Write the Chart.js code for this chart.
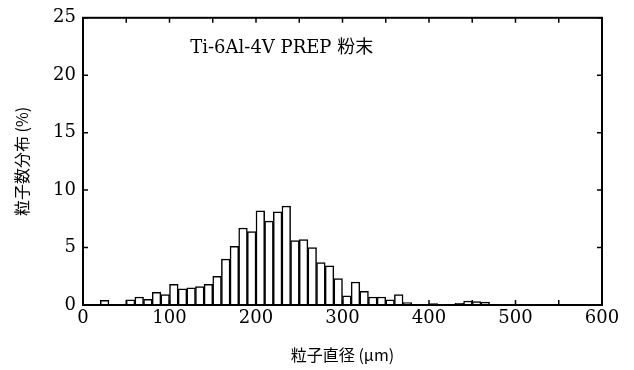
<!DOCTYPE html>
<html lang="ja">

<head>
    <meta charset="UTF-8" />
    <title>Ti-6Al-4V PREP 粉末</title>
    <style>
        html, body { margin: 0; padding: 0; background: #fff; }
        #histograma { display: block; }
    </style>
</head>

<body>
    <canvas id="histograma" width="634" height="370"></canvas>

    <script src="https://cdn.jsdelivr.net/npm/chart.js"></script>
    <script>
        // dados: centro de cada classe (µm) e % de partículas
        const diametros = [25, 35, 45, 55, 65, 75, 85, 95, 105, 115, 125, 135, 145, 155, 165, 175, 185, 195,
            205, 215, 225, 235, 245, 255, 265, 275, 285, 295, 305, 315, 325, 335, 345, 355, 365, 375,
            385, 395, 405, 415, 425, 435, 445, 455, 465, 475];
        const distribuicao = [0.4, 0.05, 0.05, 0.45, 0.7, 0.5, 1.1, 0.9, 1.8, 1.4, 1.5, 1.6, 1.8, 2.5, 4.0, 5.1, 6.7, 6.4,
            8.2, 7.3, 8.1, 8.6, 5.6, 5.7, 5.0, 3.7, 3.4, 2.3, 0.8, 2.0, 1.2, 0.7, 0.7, 0.45, 0.9, 0.2,
            0.05, 0.05, 0.12, 0.05, 0.05, 0.15, 0.35, 0.3, 0.25, 0.05];
        const ticksX = [0, 100, 200, 300, 400, 500, 600];
        const ticksXmenores = [50, 100, 150, 200, 250, 300, 350, 400, 450, 500, 550];
        const ticksY = [0, 5, 10, 15, 20, 25];
        const rotulo = 'Ti-6Al-4V PREP 粉末';

        const fonteSerif = '"DejaVu Serif", "Noto Sans CJK JP", serif';
        const fonteCJK = '"Noto Sans CJK JP", sans-serif';

        // moldura, ticks internos e o texto do título dentro do gráfico
        const molduraPlugin = {
            id: 'moldura',
            afterDatasetsDraw(chart) {
                const { ctx, chartArea: a, scales } = chart;
                ctx.save();
                ctx.strokeStyle = '#000';
                ctx.lineWidth = 2;
                ctx.strokeRect(a.left, a.top, a.right - a.left, a.bottom - a.top);

                ctx.lineWidth = 1.5;
                ctx.beginPath();
                ticksXmenores.forEach(v => {
                    const px = scales.x.getPixelForValue(v);
                    ctx.moveTo(px, a.top); ctx.lineTo(px, a.top + 5);
                    ctx.moveTo(px, a.bottom); ctx.lineTo(px, a.bottom - 5);
                });
                ticksY.forEach(v => {
                    const py = scales.y.getPixelForValue(v);
                    ctx.moveTo(a.left, py); ctx.lineTo(a.left + 5, py);
                    ctx.moveTo(a.right, py); ctx.lineTo(a.right - 5, py);
                });
                ctx.stroke();

                ctx.fillStyle = '#000';
                ctx.font = '18px ' + fonteSerif;
                ctx.textBaseline = 'alphabetic';
                ctx.fillText(rotulo, scales.x.getPixelForValue(124), scales.y.getPixelForValue(21.9));
                ctx.restore();
            }
        };

        const ctx = document.getElementById('histograma').getContext('2d');
        new Chart(ctx, {
            type: 'bar',
            data: {
                datasets: [{
                    label: '粒子数分布',
                    data: diametros.map((d, i) => ({ x: d, y: distribuicao[i] })),
                    backgroundColor: '#fff',
                    borderColor: '#000',
                    borderWidth: 1.5,
                    barPercentage: 1,
                    categoryPercentage: 1
                }]
            },
            options: {
                responsive: false,
                animation: false,
                events: [],
                layout: { padding: { left: 0, right: 32, top: 14, bottom: 0 } },
                plugins: {
                    legend: { display: false },
                    tooltip: { enabled: false }
                },
                scales: {
                    x: {
                        type: 'linear',
                        offset: false,
                        min: 0,
                        max: 600,
                        afterFit: s => { s.height = 65; },
                        afterBuildTicks: s => { s.ticks = ticksX.map(v => ({ value: v })); },
                        grid: { display: false, drawTicks: false },
                        border: { display: false },
                        ticks: {
                            color: '#000',
                            padding: 3,
                            maxRotation: 0,
                            font: { family: fonteSerif, size: 18 }
                        },
                        title: {
                            display: true,
                            text: '粒子直径 (μm)',
                            color: '#000',
                            padding: { bottom: 5 },
                            font: { family: fonteCJK, size: 16 }
                        }
                    },
                    y: {
                        min: 0,
                        max: 25,
                        afterFit: s => { s.width = 83; },
                        afterBuildTicks: s => { s.ticks = ticksY.map(v => ({ value: v })); },
                        grid: { display: false, drawTicks: false },
                        border: { display: false },
                        ticks: {
                            color: '#000',
                            padding: 7,
                            font: { family: fonteSerif, size: 18 }
                        },
                        title: {
                            display: true,
                            text: '粒子数分布 (%)',
                            color: '#000',
                            padding: { top: 12 },
                            font: { family: fonteCJK, size: 16 }
                        }
                    }
                }
            },
            plugins: [molduraPlugin]
        });
    </script>

</body>

</html>
